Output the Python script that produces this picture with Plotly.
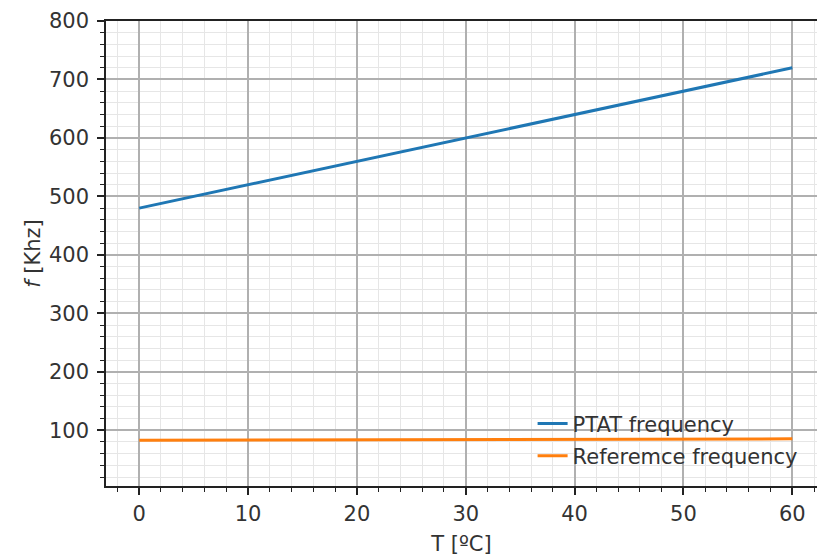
import plotly.graph_objects as go

# Temperature sweep (degrees C)
temperature = [0, 10, 20, 30, 40, 50, 60]
# Oscillator frequencies in kHz
ptat_freq = [480, 520, 560, 600, 640, 680, 720]
reference_freq = [83, 83.5, 84, 84.3, 84.7, 85, 85.3]

x_ticks = [0, 10, 20, 30, 40, 50, 60]
y_ticks = [100, 200, 300, 400, 500, 600, 700, 800]

FONT = "DejaVu Sans"
TXT = "#333333"
SIZE = 21

fig = go.Figure()
fig.add_trace(go.Scatter(
    x=temperature, y=ptat_freq, mode="lines", name="PTAT frequency",
    line=dict(color="#1f77b4", width=3), legendgroup="a",
))
fig.add_trace(go.Scatter(
    x=temperature, y=reference_freq, mode="lines", name="Referemce frequency",
    line=dict(color="#ff7f0e", width=3), legendgroup="b",
))

fig.update_layout(
    width=817, height=557,
    margin=dict(l=106, r=0, t=21, b=71),
    paper_bgcolor="white", plot_bgcolor="white",
    font=dict(family=FONT, size=SIZE, color=TXT),
    showlegend=True,
    legend=dict(
        x=0.60, y=0.178, xanchor="left", yanchor="top",
        bgcolor="rgba(0,0,0,0)", borderwidth=0,
        font=dict(family=FONT, size=SIZE, color=TXT),
        tracegroupgap=2,
    ),
)

fig.update_xaxes(
    range=[-3.05, 62.27],
    tickvals=x_ticks,
    showline=True, linecolor="#222222", linewidth=1.6, mirror=True,
    ticks="outside", ticklen=7, tickwidth=1.6, tickcolor="#222222",
    showgrid=True, gridcolor="#b0b0b0", gridwidth=1.6,
    zeroline=False,
    minor=dict(dtick=2, tick0=0, ticks="outside", ticklen=4, tickwidth=1.2,
               tickcolor="#222222", showgrid=True, gridcolor="#e6e6e6",
               gridwidth=1.3),
    ticklabelstandoff=1,
    title=dict(text="T [ºC]", font=dict(family=FONT, size=SIZE, color=TXT), standoff=11),
)
fig.update_yaxes(
    range=[4.7, 800],
    tickvals=y_ticks,
    showline=True, linecolor="#222222", linewidth=1.6, mirror=False,
    ticks="outside", ticklen=7, tickwidth=1.6, tickcolor="#222222",
    showgrid=True, gridcolor="#b0b0b0", gridwidth=1.6,
    zeroline=False,
    minor=dict(dtick=20, tick0=0, ticks="outside", ticklen=4, tickwidth=1.2,
               tickcolor="#222222", showgrid=True, gridcolor="#e6e6e6",
               gridwidth=1.3),
    ticklabelstandoff=4,
    title=dict(text="<i>f</i> [Khz]", font=dict(family=FONT, size=SIZE, color=TXT), standoff=3),
)

fig.write_html("out.html")
